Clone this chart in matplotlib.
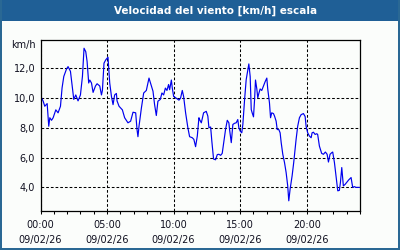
import matplotlib.pyplot as plt
from matplotlib.patches import Rectangle
from matplotlib.ticker import MultipleLocator, FixedLocator

# wind speed, hours since 00:00 on 09/02/26
hours = [0.00, 0.08, 0.20, 0.32, 0.50, 0.62, 0.70, 0.83, 0.95, 1.15,
         1.32, 1.50, 1.62, 1.75, 1.95, 2.07, 2.25, 2.40, 2.50, 2.65,
         2.82, 3.00, 3.15, 3.27, 3.40, 3.50, 3.62, 3.70, 3.83, 3.95,
         4.13, 4.25, 4.45, 4.58, 4.65, 4.77, 4.90, 5.07, 5.20, 5.33,
         5.45, 5.57, 5.70, 5.75, 5.90, 6.15, 6.32, 6.57, 6.77, 6.95,
         7.15, 7.25, 7.32, 7.40, 7.58, 7.75, 7.95, 8.15, 8.33, 8.45,
         8.57, 8.70, 8.82, 9.00, 9.12, 9.25, 9.38, 9.50, 9.62, 9.70,
         9.83, 9.90, 10.00, 10.20, 10.40, 10.52, 10.65, 10.75, 10.90, 11.07,
         11.20, 11.40, 11.52, 11.65, 11.78, 11.90, 11.95, 12.08, 12.25, 12.45,
         12.57, 12.65, 12.78, 12.87, 13.00, 13.15, 13.28, 13.40, 13.53, 13.65,
         13.75, 13.90, 14.03, 14.15, 14.20, 14.33, 14.45, 14.58, 14.70, 14.82,
         14.90, 15.00, 15.12, 15.20, 15.33, 15.45, 15.57, 15.65, 15.75, 15.83,
         15.90, 16.00, 16.08, 16.15, 16.25, 16.32, 16.40, 16.50, 16.62, 16.75,
         16.88, 17.00, 17.07, 17.20, 17.28, 17.37, 17.50, 17.58, 17.70, 17.78,
         17.90, 18.00, 18.08, 18.20, 18.33, 18.45, 18.57, 18.65, 18.75, 18.90,
         19.02, 19.20, 19.32, 19.45, 19.58, 19.75, 19.88, 19.95, 20.07, 20.20,
         20.33, 20.40, 20.50, 20.63, 20.75, 20.82, 20.95, 21.12, 21.25, 21.40,
         21.53, 21.63, 21.75, 21.88, 21.95, 22.08, 22.20, 22.33, 22.45, 22.53,
         22.63, 22.75, 22.88, 23.00, 23.15, 23.33, 23.45, 23.58, 23.70, 23.95]

speed = [9.40, 10.00, 9.78, 9.44, 9.62, 8.10, 8.67, 8.50, 8.67, 9.20,
         9.00, 9.44, 10.67, 11.44, 11.93, 12.10, 11.78, 10.67, 9.90, 10.20,
         9.80, 10.20, 11.44, 13.33, 13.10, 12.44, 11.00, 11.20, 11.00, 10.37,
         10.80, 10.95, 10.80, 10.20, 10.50, 12.33, 12.55, 12.73, 11.00, 10.10,
         9.55, 10.20, 10.30, 9.80, 9.44, 9.20, 8.67, 8.33, 8.44, 9.04,
         9.00, 7.88, 7.40, 8.10, 9.33, 10.33, 10.50, 11.33, 10.80, 10.45,
         9.55, 8.82, 9.78, 9.90, 10.33, 10.20, 10.66, 10.50, 10.90, 10.55,
         11.20, 10.66, 10.10, 9.98, 9.85, 9.98, 10.50, 10.10, 9.00, 8.00,
         7.40, 7.33, 7.22, 6.73, 7.45, 8.67, 8.55, 8.33, 9.00, 9.10,
         8.78, 8.00, 8.05, 7.10, 5.90, 5.85, 6.20, 6.22, 6.15, 6.28,
         6.90, 7.88, 8.50, 8.33, 7.90, 7.00, 8.22, 8.30, 8.33, 8.55,
         8.00, 7.78, 7.66, 8.22, 9.88, 11.22, 11.88, 12.28, 11.44, 9.22,
         9.00, 8.73, 9.88, 11.20, 10.60, 10.00, 10.30, 10.60, 10.50, 10.80,
         11.10, 11.33, 10.60, 9.66, 8.67, 9.00, 8.95, 8.78, 8.44, 7.88,
         7.88, 7.66, 7.00, 6.22, 5.66, 5.00, 4.10, 3.10, 3.88, 4.77,
         5.66, 7.22, 8.10, 8.67, 8.88, 8.95, 8.75, 8.10, 7.66, 7.44,
         7.33, 7.66, 7.70, 7.55, 7.60, 7.55, 6.77, 6.28, 6.22, 6.37,
         6.22, 5.70, 6.22, 6.33, 6.37, 5.66, 4.77, 3.77, 3.80, 4.33,
         5.33, 4.10, 4.20, 4.33, 4.50, 4.66, 4.00, 4.05, 4.00, 4.00]

y_ticks = [4, 6, 8, 10, 12]
x_ticks = [0, 5, 10, 15, 20]
x_labels = ["00:00\n09/02/26", "05:00\n09/02/26", "10:00\n09/02/26",
            "15:00\n09/02/26", "20:00\n09/02/26"]

plt.rcParams['font.family'] = ['DejaVu Sans']
plt.rcParams['font.size'] = 7

bg = '#fbfdfb'
fig = plt.figure(figsize=(4, 2.5), dpi=100, facecolor=bg)

# frame: title bar and thin border
fig.patches.append(Rectangle((0, 1 - 20.7 / 250), 1, 20.7 / 250, transform=fig.transFigure,
                             facecolor='#1f5f96', edgecolor='none', zorder=0))
fig.patches.append(Rectangle((0, 0), 2 / 400, 1, transform=fig.transFigure,
                             facecolor='#2a6894', edgecolor='none', zorder=0))
fig.patches.append(Rectangle((398 / 400, 0), 2 / 400, 1, transform=fig.transFigure,
                             facecolor='#2a6894', edgecolor='none', zorder=0))
fig.patches.append(Rectangle((0, 0), 1, 2 / 250, transform=fig.transFigure,
                             facecolor='#2a6894', edgecolor='none', zorder=0))
fig.text(216 / 400, 1 - 10.5 / 250, "Velocidad del viento [km/h] escala", color='white',
         fontweight='bold', fontsize=7.5, ha='center', va='center')
fig.text(35.7 / 400, 1 - 45.5 / 250, "km/h", color='#101020', ha='right', va='center')

ax = fig.add_axes([40.5 / 400, 1 - 210.5 / 250, (360 - 40.5) / 400, 170 / 250])
ax.set_facecolor(bg)
ax.plot(hours, speed, color='#0000ee', linewidth=0.85)

ax.set_xlim(0, 24)
ax.set_ylim(2.45, 13.85)
ax.set_yticks(y_ticks)
ax.set_yticklabels([f"{v:.1f}".replace('.', ',') for v in y_ticks])
ax.xaxis.set_major_locator(FixedLocator(x_ticks))
ax.set_xticklabels(x_labels, linespacing=1.55)
ax.xaxis.set_minor_locator(MultipleLocator(1))

ax.grid(True, color='black', linestyle=(0, (2.6, 1.9)), linewidth=0.75)
ax.tick_params(axis='y', length=0, pad=3.8, colors='#101020')
ax.tick_params(axis='x', which='both', direction='out', length=2.5, width=0.75,
               pad=4.5, colors='black', labelcolor='#101020')
for s in ax.spines.values():
    s.set_linewidth(0.9)
    s.set_color('black')

plt.savefig('out.png', dpi=100, facecolor=bg)
